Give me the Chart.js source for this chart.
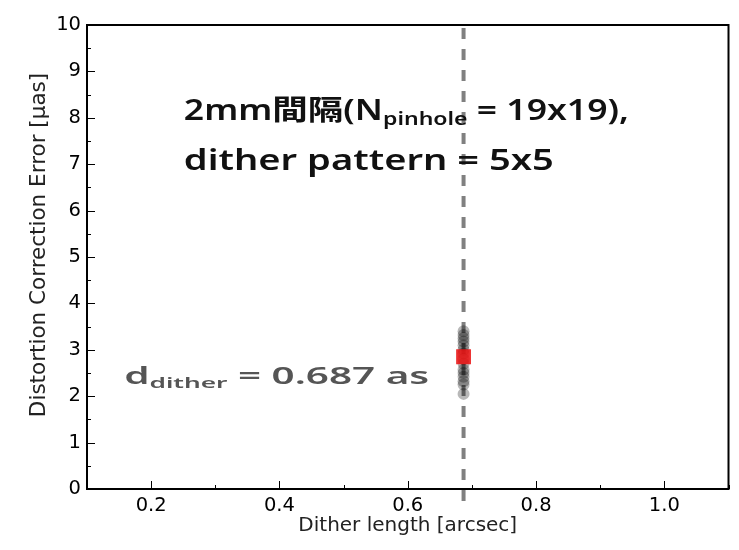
<!DOCTYPE html>
<html>
<head>
<meta charset="utf-8">
<script src="https://cdn.jsdelivr.net/npm/chart.js@4.4.1/dist/chart.umd.min.js"></script>
<style>
html,body{margin:0;padding:0;background:#fff;}
#wrap{width:739px;height:550px;position:relative;}
</style>
</head>
<body>
<div id="wrap"><canvas id="c" width="739" height="550"></canvas></div>
<script>
// ---- data ----
const ditherLength = 0.687;                       // arcsec
const trialErrors = [3.4, 3.32, 3.25, 3.18, 3.1, 3.0, 2.92, 2.8, 2.7, 2.57, 2.5, 2.42, 2.32, 2.25, 2.05]; // μas
const meanError = 2.85;                            // μas
const xTickValues = [0.2, 0.4, 0.6, 0.8, 1.0];
const xMinorValues = [0.1, 0.3, 0.5, 0.7, 0.9, 1.1];
const yTickValues = [0,1,2,3,4,5,6,7,8,9,10];
const yMinorValues = [0.5,1.5,2.5,3.5,4.5,5.5,6.5,7.5,8.5,9.5];
const yTitle = 'Distortion Correction Error [μas]';
const xTitle = 'Dither length [arcsec]';

const FONT = "'DejaVu Sans', sans-serif";

const inwardTicks = {
  id: 'inwardTicks',
  afterDraw(chart) {
    const {ctx, chartArea: a, scales: {x, y}} = chart;
    ctx.save();
    ctx.strokeStyle = '#000';
    ctx.lineWidth = 1;
    ctx.beginPath();
    xTickValues.forEach(v => { const p = Math.round(x.getPixelForValue(v)) + 0.5; ctx.moveTo(p, a.bottom); ctx.lineTo(p, a.bottom - 8); });
    xMinorValues.forEach(v => { const p = Math.round(x.getPixelForValue(v)) + 0.5; ctx.moveTo(p, a.bottom); ctx.lineTo(p, a.bottom - 4); });
    yTickValues.forEach(v => { const p = Math.round(y.getPixelForValue(v)) + 0.5; ctx.moveTo(a.left, p); ctx.lineTo(a.left + 8, p); });
    yMinorValues.forEach(v => { const p = Math.round(y.getPixelForValue(v)) + 0.5; ctx.moveTo(a.left, p); ctx.lineTo(a.left + 4, p); });
    ctx.stroke();
    ctx.lineWidth = 2;
    ctx.strokeRect(a.left, a.top, a.right - a.left, a.bottom - a.top);
    // y axis title (rotated)
    ctx.fillStyle = '#222';
    ctx.font = `21.5px ${FONT}`;
    ctx.textAlign = 'center';
    ctx.textBaseline = 'middle';
    ctx.translate(39, (a.top + a.bottom) / 2 - 12);
    ctx.rotate(-Math.PI / 2);
    ctx.fillText(yTitle, 0, 0);
    ctx.restore();
  }
};

// text annotations (anchor in data coords, target width in px)
const notes = [
  {x: 0.251, y: 7.95, size: 28, width: 445, color: '#111', parts: [['2mm間隔(N', 0], ['pinhole', 1], [' = 19x19),', 0]]},
  {x: 0.251, y: 6.88, size: 28, width: 370, color: '#111', parts: [['dither pattern = 5x5', 0]]},
  {x: 0.158, y: 2.26, size: 23, width: 305, color: '#555', parts: [['d', 0], ['dither', 1], [' = 0.687 as', 0]]}
];

const annot = {
  id: 'annot',
  afterDatasetsDraw(chart) {
    const {ctx, scales: {x, y}} = chart;
    const fam = "'Noto Sans', 'Noto Sans CJK JP', sans-serif";
    notes.forEach(n => {
      ctx.save();
      const s = n.size;
      let w = 0;
      n.parts.forEach(([t, sub]) => { ctx.font = `600 ${sub ? s * 0.65 : s}px ${fam}`; w += ctx.measureText(t).width; });
      const k = n.width / w;
      ctx.translate(x.getPixelForValue(n.x), y.getPixelForValue(n.y));
      ctx.scale(k, 1);
      ctx.fillStyle = n.color;
      ctx.textBaseline = 'alphabetic';
      let px = 0;
      n.parts.forEach(([t, sub]) => {
        ctx.font = `600 ${sub ? s * 0.65 : s}px ${fam}`;
        ctx.fillText(t, px, sub ? s * 0.18 : 0);
        px += ctx.measureText(t).width;
      });
      ctx.restore();
    });
  }
};

new Chart(document.getElementById('c'), {
  type: 'scatter',
  data: {
    datasets: [
      {
        label: 'dither',
        type: 'line',
        data: [{x: ditherLength, y: 10}, {x: ditherLength, y: -0.3}],
        borderColor: 'rgb(128,128,128)',
        borderWidth: 4,
        borderDash: [11, 10],
        borderDashOffset: -3,
        pointRadius: 0,
        clip: false,
        order: 3
      },
      {
        label: 'trials',
        data: trialErrors.map(v => ({x: ditherLength, y: v})),
        backgroundColor: 'rgba(0,0,0,0.28)',
        borderWidth: 0,
        pointRadius: 6,
        order: 2
      },
      {
        label: 'mean',
        data: [{x: ditherLength, y: meanError}],
        backgroundColor: 'rgba(235,20,20,0.88)',
        borderWidth: 0,
        pointStyle: 'rect',
        pointRadius: 10.5,
        order: 1
      }
    ]
  },
  plugins: [inwardTicks, annot],
  options: {
    responsive: false,
    animation: false,
    events: [],
    layout: {padding: {top: 25, right: 6, left: 0, bottom: 0}},
    plugins: {legend: {display: false}, tooltip: {enabled: false}},
    scales: {
      x: {
        type: 'linear', min: 0.1, max: 1.1,
        afterBuildTicks: s => { s.ticks = xTickValues.map(v => ({value: v})); },
        afterFit: s => { s.height = 61; },
        grid: {display: false, drawTicks: false},
        border: {display: false},
        ticks: {color: '#000', font: {family: FONT, size: 19.5}, padding: 5, callback: v => v.toFixed(1), maxRotation: 0},
        title: {display: true, text: xTitle, color: '#222', font: {family: FONT, size: 20}, padding: {top: 0, bottom: 12}}
      },
      y: {
        type: 'linear', min: 0, max: 10,
        afterBuildTicks: s => { s.ticks = yTickValues.map(v => ({value: v})); },
        afterFit: s => { s.width = 87; },
        grid: {display: false, drawTicks: false},
        border: {display: false},
        ticks: {color: '#000', font: {family: FONT, size: 19.5}, padding: 6},
        title: {display: false}
      }
    }
  }
});
</script>
</body>
</html>
